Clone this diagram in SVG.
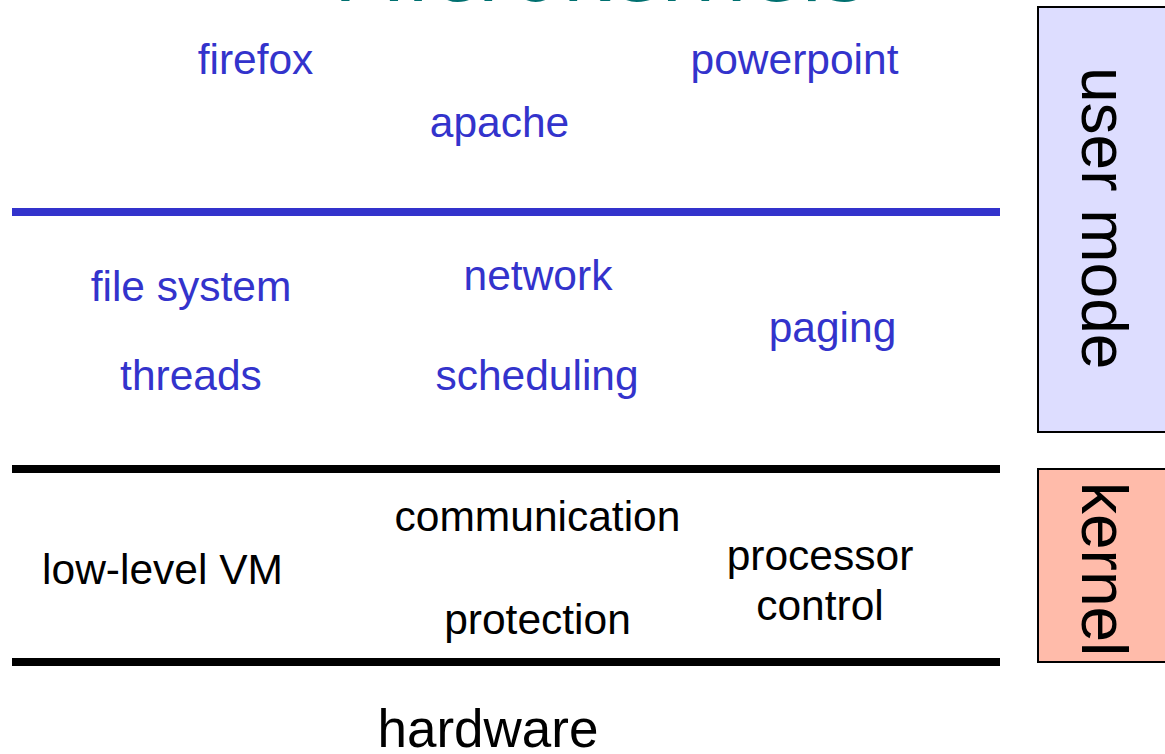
<svg xmlns="http://www.w3.org/2000/svg" width="1165" height="754" viewBox="0 0 1165 754">
  <style>
    .t { font-family: "Liberation Sans", Arial, sans-serif; font-size: 42.5px; text-anchor: middle; }
    .big { font-size: 53px; }
    .svc { fill: #3333cc; }
    .krn { fill: #000000; }
    .side { font-family: "Liberation Sans", Arial, sans-serif; font-size: 64px; fill: #000000; }
    .sep { stroke-width: 8; fill: none; }
    .box { stroke: #000000; stroke-width: 2; }
  </style>
  <rect width="1165" height="754" fill="#ffffff"/>

  <!-- slide title, mostly above the visible area -->
  <text id="title" x="333" y="1" font-family="'DejaVu Sans', Verdana, sans-serif" font-size="85" fill="#007070">Microkernels</text>

  <!-- layer separators -->
  <g id="layers">
    <line class="sep" x1="12" y1="212" x2="1000" y2="212" stroke="#3333cc"/>
    <line class="sep" x1="12" y1="469" x2="1000" y2="469" stroke="#000000"/>
    <line class="sep" x1="12" y1="662" x2="1000" y2="662" stroke="#000000"/>
  </g>

  <!-- applications -->
  <g id="firefox"><text class="t svc" x="255.5" y="74">firefox</text></g>
  <g id="apache"><text class="t svc" x="499.5" y="137">apache</text></g>
  <g id="powerpoint"><text class="t svc" x="794.5" y="74">powerpoint</text></g>

  <!-- user-level services -->
  <g id="file-system"><text class="t svc" x="191" y="301">file system</text></g>
  <g id="threads"><text class="t svc" x="191" y="390">threads</text></g>
  <g id="network"><text class="t svc" x="538" y="290">network</text></g>
  <g id="scheduling"><text class="t svc" x="537" y="390">scheduling</text></g>
  <g id="paging"><text class="t svc" x="832.5" y="342">paging</text></g>

  <!-- kernel services -->
  <g id="low-level-vm"><text class="t krn" x="162.5" y="584">low-level VM</text></g>
  <g id="communication"><text class="t krn" x="537.5" y="531">communication</text></g>
  <g id="protection"><text class="t krn" x="537.5" y="634">protection</text></g>
  <g id="processor-control">
    <text class="t krn" x="820" y="570">processor</text>
    <text class="t krn" x="820" y="620">control</text>
  </g>

  <!-- hardware -->
  <g id="hardware"><text class="t big krn" x="488" y="747">hardware</text></g>

  <!-- mode labels on the right -->
  <g id="user-mode">
    <rect class="box" x="1038" y="7" width="140" height="425" fill="#ddddff"/>
    <text class="side" transform="translate(1082,67) rotate(90)">user mode</text>
  </g>
  <g id="kernel">
    <rect class="box" x="1038" y="469" width="140" height="193" fill="#ffbbaa"/>
    <text class="side" transform="translate(1082,482) rotate(90)">kernel</text>
  </g>
</svg>
